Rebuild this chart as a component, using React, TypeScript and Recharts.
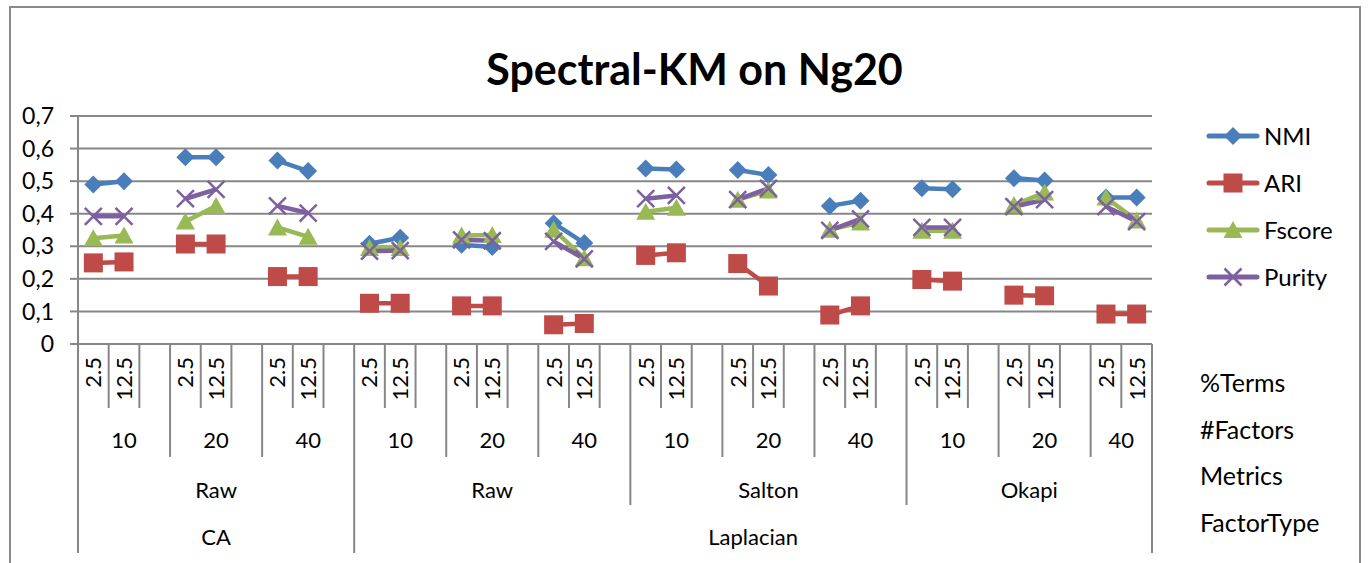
import React from 'react'
import { LineChart, Line, XAxis, YAxis, CartesianGrid } from 'recharts'

// one entry per category slot; '' marks the empty slot Excel left between groups
const terms = [
  '2.5', '12.5', '', '2.5', '12.5', '', '2.5', '12.5', '',
  '2.5', '12.5', '', '2.5', '12.5', '', '2.5', '12.5', '',
  '2.5', '12.5', '', '2.5', '12.5', '', '2.5', '12.5', '',
  '2.5', '12.5', '', '2.5', '12.5', '', '2.5', '12.5',
]
const factors = [
  '10', '10', '10', '20', '20', '20', '40', '40', '40',
  '10', '10', '10', '20', '20', '20', '40', '40', '40',
  '10', '10', '10', '20', '20', '20', '40', '40', '40',
  '10', '10', '10', '20', '20', '20', '40', '40',
]
const metrics = [
  'Raw', 'Raw', 'Raw', 'Raw', 'Raw', 'Raw', 'Raw', 'Raw', 'Raw',
  'Raw', 'Raw', 'Raw', 'Raw', 'Raw', 'Raw', 'Raw', 'Raw', 'Raw',
  'Salton', 'Salton', 'Salton', 'Salton', 'Salton', 'Salton', 'Salton', 'Salton', 'Salton',
  'Okapi', 'Okapi', 'Okapi', 'Okapi', 'Okapi', 'Okapi', 'Okapi', 'Okapi',
]
const factorTypes = [
  'CA', 'CA', 'CA', 'CA', 'CA', 'CA', 'CA', 'CA', 'CA',
  'Laplacian', 'Laplacian', 'Laplacian', 'Laplacian', 'Laplacian', 'Laplacian', 'Laplacian', 'Laplacian', 'Laplacian',
  'Laplacian', 'Laplacian', 'Laplacian', 'Laplacian', 'Laplacian', 'Laplacian', 'Laplacian', 'Laplacian', 'Laplacian',
  'Laplacian', 'Laplacian', 'Laplacian', 'Laplacian', 'Laplacian', 'Laplacian', 'Laplacian', 'Laplacian',
]

const nmi = [
  0.49, 0.5, null, 0.573, 0.573, null, 0.563, 0.531, null,
  0.308, 0.326, null, 0.305, 0.298, null, 0.371, 0.31, null,
  0.539, 0.536, null, 0.534, 0.519, null, 0.424, 0.44, null,
  0.478, 0.475, null, 0.509, 0.502, null, 0.45, 0.45,
]
const ari = [
  0.249, 0.252, null, 0.307, 0.307, null, 0.207, 0.207, null,
  0.125, 0.125, null, 0.117, 0.117, null, 0.059, 0.063, null,
  0.272, 0.28, null, 0.247, 0.178, null, 0.089, 0.117, null,
  0.198, 0.193, null, 0.15, 0.148, null, 0.092, 0.092,
]
const fscore = [
  0.325, 0.333, null, 0.376, 0.424, null, 0.358, 0.329, null,
  0.295, 0.295, null, 0.333, 0.335, null, 0.351, 0.263, null,
  0.406, 0.418, null, 0.443, 0.471, null, 0.351, 0.373, null,
  0.348, 0.348, null, 0.427, 0.465, null, 0.45, 0.379,
]
const purity = [
  0.392, 0.392, null, 0.446, 0.475, null, 0.424, 0.402, null,
  0.285, 0.287, null, 0.32, 0.317, null, 0.315, 0.261, null,
  0.446, 0.456, null, 0.443, 0.478, null, 0.349, 0.384, null,
  0.358, 0.358, null, 0.422, 0.443, null, 0.422, 0.376,
]

const yTicks = [0, 0.1, 0.2, 0.3, 0.4, 0.5, 0.6, 0.7]
const levelNames = ['%Terms', '#Factors', 'Metrics', 'FactorType']

const data = terms.map((t, i) => ({
  id: `c${i}`,
  NMI: nmi[i],
  ARI: ari[i],
  Fscore: fscore[i],
  Purity: purity[i],
}))

const W = 1369
const H = 563
const TOP = 116
const LEFT = 78
const RIGHT = 217
const BOTTOM = 219
const PLOT_BOTTOM = H - BOTTOM
const SLOT = (W - LEFT - RIGHT) / terms.length
const GRID = '#878787'
const FONT = 'Lato, "Open Sans", sans-serif'
const levelBottom = [PLOT_BOTTOM, 408, 457, 505, 553]
const levelLabelY = [0, 0, 440, 490, 537]

const COLORS = { NMI: '#4a7ebb', ARI: '#be4b48', Fscore: '#98b954', Purity: '#7d60a0' }

// keys per level; a change of key starts a new run (group) on that level
const levelKey = (level: number, i: number) => {
  if (level === 1) return `${i}`
  if (level === 2) return `${factorTypes[i]}|${metrics[i]}|${factors[i]}|${Math.floor(i / 3)}`
  if (level === 3) return `${factorTypes[i]}|${metrics[i]}`
  return factorTypes[i]
}
const levelText = (level: number, i: number) =>
  level === 2 ? factors[i] : level === 3 ? metrics[i] : factorTypes[i]

const runStarts = (level: number, i: number) => i === 0 || levelKey(level, i) !== levelKey(level, i - 1)
const runLength = (level: number, i: number) => {
  let n = 1
  while (i + n < terms.length && levelKey(level, i + n) === levelKey(level, i)) n++
  return n
}

const CategoryTick = (props: any) => {
  const { x, index } = props
  const left = x - SLOT / 2
  let level = 1
  for (let l = 2; l <= 4; l++) if (runStarts(l, index)) level = l
  const parts: React.ReactNode[] = []
  parts.push(
    <line key="b" x1={left} x2={left} y1={PLOT_BOTTOM} y2={levelBottom[level]} stroke={GRID} strokeWidth={2} />
  )
  if (index === terms.length - 1) {
    parts.push(
      <line key="e" x1={left + SLOT} x2={left + SLOT} y1={PLOT_BOTTOM} y2={levelBottom[4]} stroke={GRID} strokeWidth={2} />
    )
  }
  if (terms[index]) {
    parts.push(
      <text
        key="t"
        x={x}
        y={357}
        dy="0.36em"
        textAnchor="end"
        transform={`rotate(-90, ${x}, 357)`}
        fontSize={22}
        fontFamily={FONT}
        fill="#000"
      >
        {terms[index]}
      </text>
    )
  }
  for (let l = 2; l <= 4; l++) {
    if (!runStarts(l, index)) continue
    const cx = left + (runLength(l, index) * SLOT) / 2
    parts.push(
      <text
        key={`l${l}`}
        x={cx}
        y={levelLabelY[l]}
        dy="0.36em"
        textAnchor="middle"
        fontSize={22}
        fontFamily={FONT}
        fill="#000"
      >
        {levelText(l, index)}
      </text>
    )
  }
  return <g>{parts}</g>
}

const makeDot = (shape: string, color: string) => (p: any) => {
  const { cx, cy, index } = p
  const key = `${shape}-${index}`
  if (cx == null || cy == null || p.value == null) return <g key={key} />
  if (shape === 'diamond') {
    const r = 9
    return <path key={key} d={`M${cx},${cy - r}L${cx + r},${cy}L${cx},${cy + r}L${cx - r},${cy}Z`} fill={color} />
  }
  if (shape === 'square') {
    const r = 9.5
    return <rect key={key} x={cx - r} y={cy - r} width={2 * r} height={2 * r} fill={color} />
  }
  if (shape === 'triangle') {
    return <path key={key} d={`M${cx},${cy - 9}L${cx + 9.5},${cy + 8}L${cx - 9.5},${cy + 8}Z`} fill={color} />
  }
  const r = 8.5
  return (
    <path
      key={key}
      d={`M${cx - r},${cy - r}L${cx + r},${cy + r}M${cx - r},${cy + r}L${cx + r},${cy - r}`}
      stroke={color}
      strokeWidth={2.5}
      fill="none"
    />
  )
}

const series = [
  { key: 'NMI', shape: 'diamond' },
  { key: 'ARI', shape: 'square' },
  { key: 'Fscore', shape: 'triangle' },
  { key: 'Purity', shape: 'cross' },
]

function LegendMarker({ shape, color }: { shape: string; color: string }) {
  return (
    <svg width={54} height={24} style={{ display: 'block' }}>
      <line x1={3} x2={51} y1={12} y2={12} stroke={color} strokeWidth={5} strokeLinecap="round" />
      {makeDot(shape, color)({ cx: 27, cy: 12, index: 0, value: 1 })}
    </svg>
  )
}

export default function App() {
  return (
    <div style={{ position: 'absolute', left: 0, top: 0, width: W, height: H, overflow: 'hidden', background: '#fff' }}>
      <div
        style={{
          position: 'absolute',
          left: 9,
          top: 6,
          width: 1352,
          height: 600,
          border: '2px solid #8a8a8a',
          boxSizing: 'border-box',
        }}
      />
      <div
        style={{
          position: 'absolute',
          left: 0,
          width: W,
          top: 46,
          textAlign: 'center',
          fontFamily: FONT,
          fontWeight: 700,
          fontSize: 43,
          lineHeight: '46px',
          paddingLeft: 20,
          boxSizing: 'border-box',
        }}
      >
        Spectral-KM on Ng20
      </div>
      <div style={{ position: 'absolute', left: 0, top: 0 }}>
        <LineChart width={W} height={H} data={data} margin={{ top: TOP, right: RIGHT, bottom: 0, left: 0 }}>
          <CartesianGrid vertical={false} stroke={GRID} strokeWidth={2} />
          <XAxis
            dataKey="id"
            height={BOTTOM}
            interval={0}
            padding={{ left: SLOT / 2, right: SLOT / 2 }}
            axisLine={false}
            tickLine={false}
            tick={<CategoryTick />}
          />
          <YAxis
            width={LEFT}
            domain={[0, 0.7]}
            ticks={yTicks}
            interval={0}
            axisLine={{ stroke: GRID, strokeWidth: 2 }}
            tickLine={{ stroke: GRID, strokeWidth: 2 }}
            tickSize={8}
            tickMargin={16}
            tick={{ fontSize: 23, fontFamily: FONT, fill: '#000' }}
            tickFormatter={(v: number) => String(v).replace('.', ',')}
          />
          {series.map(s => (
            <Line
              key={s.key}
              dataKey={s.key}
              stroke={COLORS[s.key as keyof typeof COLORS]}
              strokeWidth={4.5}
              dot={makeDot(s.shape, COLORS[s.key as keyof typeof COLORS])}
              activeDot={false}
              isAnimationActive={false}
            />
          ))}
        </LineChart>
      </div>
      {/* legend */}
      <div style={{ position: 'absolute', left: 1206, top: 112, fontFamily: FONT, fontSize: 24 }}>
        {series.map(s => (
          <div key={s.key} style={{ display: 'flex', alignItems: 'center', height: 47 }}>
            <LegendMarker shape={s.shape} color={COLORS[s.key as keyof typeof COLORS]} />
            <span style={{ marginLeft: 4, lineHeight: '24px' }}>{s.key}</span>
          </div>
        ))}
      </div>
      {/* level names beside the category axis */}
      <div style={{ position: 'absolute', left: 1200, top: 366, fontFamily: FONT, fontSize: 25 }}>
        {levelNames.map(n => (
          <div key={n} style={{ height: 46.5, lineHeight: '32px' }}>
            {n}
          </div>
        ))}
      </div>
    </div>
  )
}
